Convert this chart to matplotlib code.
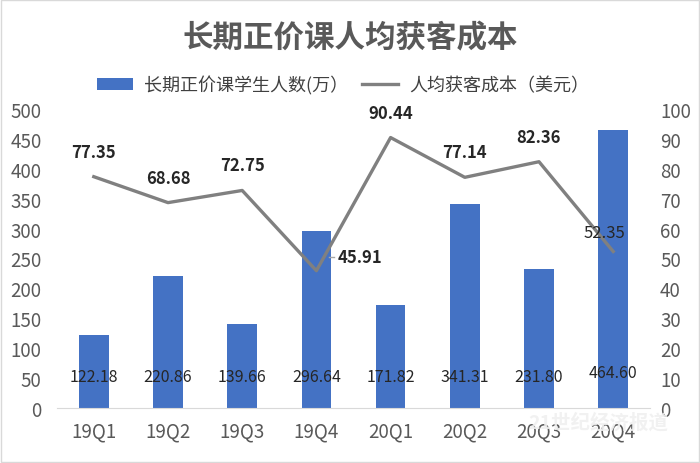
import matplotlib
matplotlib.use("Agg")
import matplotlib.pyplot as plt
from matplotlib.lines import Line2D
from matplotlib.patches import Patch
from matplotlib.transforms import offset_copy

plt.rcParams['font.family'] = ['Noto Sans CJK SC', 'DejaVu Sans']

categories = ["19Q1", "19Q2", "19Q3", "19Q4", "20Q1", "20Q2", "20Q3", "20Q4"]
students = [122.18, 220.86, 139.66, 296.64, 171.82, 341.31, 231.80, 464.60]
cost = [77.35, 68.68, 72.75, 45.91, 90.44, 77.14, 82.36, 52.35]
left_ticks = [0, 50, 100, 150, 200, 250, 300, 350, 400, 450, 500]
right_ticks = [0, 10, 20, 30, 40, 50, 60, 70, 80, 90, 100]

fig = plt.figure(figsize=(7, 4.64), dpi=100)
fig.patch.set_facecolor("white")
ax = fig.add_axes([0.081, 0.1185, 0.848, 0.6445])
ax2 = ax.twinx()

x = list(range(len(categories)))
ax.bar(x, students, width=0.4, color="#4472C4", zorder=2)
ax2.plot(x, cost, color="#808080", linewidth=2.4, zorder=3)

ax.set_xlim(-0.5, len(categories) - 0.5)
ax.set_ylim(0, 500)
ax2.set_ylim(0, 100)
ax.set_yticks(left_ticks)
ax2.set_yticks(right_ticks)
ax.set_xticks(x)
ax.set_xticklabels(categories)

for a in (ax, ax2):
    for s in a.spines.values():
        s.set_visible(False)
    a.tick_params(length=0, labelsize=13.5, labelcolor="#595959")
ax.spines['bottom'].set_visible(True)
ax.spines['bottom'].set_color("#d9d9d9")
ax.tick_params(axis='x', pad=9)
ax.tick_params(axis='y', pad=11)
ax2.tick_params(axis='y', pad=7)

# bar labels
for i, v in enumerate(students):
    yv = 52 if i != 7 else 60
    ax.text(i, yv, f"{v:.2f}", ha="center", va="center", fontsize=11.5,
            color="#262626", zorder=5)

# line labels
offsets = {0: (0, 18), 1: (0, 18), 2: (0, 18), 3: (15, 10), 4: (0, 18),
           5: (0, 18), 6: (0, 18), 7: (-6, 14)}
for i, v in enumerate(cost):
    dx, dy = offsets[i]
    ha = "left" if i == 3 else "center"
    ax2.annotate(f"{v:.2f}", (i, v), xytext=(dx, dy), textcoords="offset points",
                 ha=ha, va="center", fontsize=12, color="#262626",
                 fontweight="bold" if i != 7 else "normal", zorder=6)
# short leader line for the 19Q4 label
t1 = offset_copy(ax2.transData, fig=fig, x=9, y=10, units="points")
t2 = offset_copy(ax2.transData, fig=fig, x=13, y=10, units="points")
p1 = t1.transform((3, cost[3]))
p2 = t2.transform((3, cost[3]))
fig.add_artist(Line2D([p1[0], p2[0]], [p1[1], p2[1]], transform=None,
                      color="#a6a6a6", lw=1.0))

fig.text(0.5, 0.918, "长期正价课人均获客成本", ha="center", va="center",
         fontsize=22, fontweight="bold", color="#595959")

handles = [Patch(facecolor="#4472C4", edgecolor="none"),
           Line2D([0], [0], color="#808080", lw=2.4)]
fig.legend(handles, ["长期正价课学生人数(万）", "人均获客成本（美元）"],
           loc="center", bbox_to_anchor=(0.49, 0.815), ncol=2, frameon=False,
           fontsize=13, labelcolor="#404040", handlelength=2.0, handletextpad=0.6,
           columnspacing=0.8)

fig.text(0.955, 0.088, "21世纪经济报道", ha="right", va="center", fontsize=14,
         fontweight="bold", color="#f0f0f0", alpha=0.9, zorder=10)

border = plt.Rectangle((0.002, 0.002), 0.996, 0.996, transform=fig.transFigure,
                       fill=False, edgecolor="#d9d9d9", lw=1)
fig.patches.append(border)

fig.savefig("out.png", dpi=100)
